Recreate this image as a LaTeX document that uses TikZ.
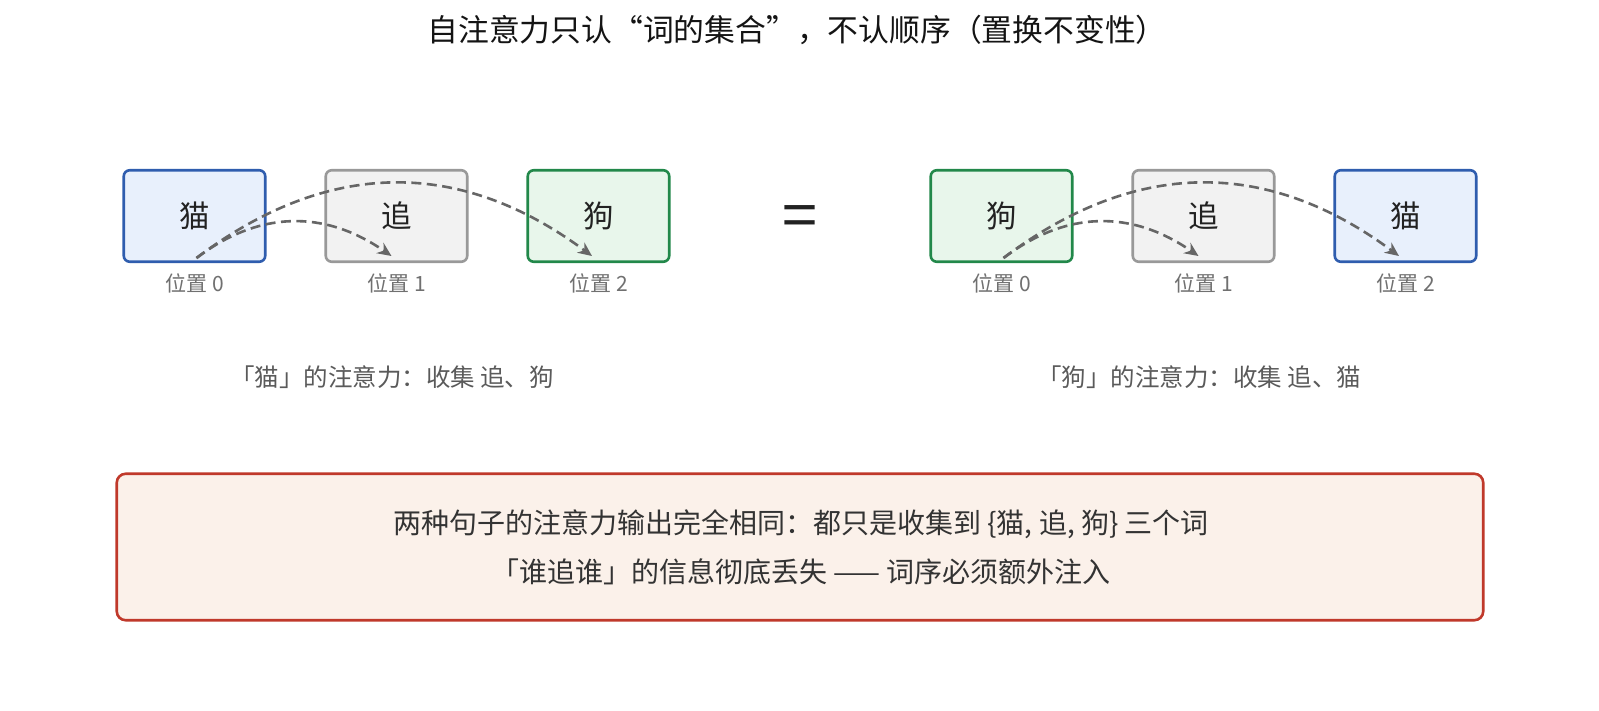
\documentclass[tikz,border=0pt]{standalone}
\usepackage{fontspec}
\setmainfont{Noto Sans CJK SC}
\usetikzlibrary{arrows.meta}
\definecolor{bluefill}{HTML}{E8F0FC}
\definecolor{blueline}{HTML}{2F5DAE}
\definecolor{grayfill}{HTML}{F2F2F2}
\definecolor{grayline}{HTML}{999999}
\definecolor{greenfill}{HTML}{E8F6EB}
\definecolor{greenline}{HTML}{22884A}
\definecolor{redfill}{HTML}{FBF1EA}
\definecolor{redline}{HTML}{C0392B}
\definecolor{arrowc}{HTML}{666666}
\definecolor{labc}{HTML}{707070}
\definecolor{capc}{HTML}{5A5A5A}
\definecolor{txtc}{HTML}{222222}
\definecolor{bodyc}{HTML}{333333}
\tikzset{
  wordbox/.style={draw, line width=2.6pt, rounded corners=6pt, minimum width=141.5pt, minimum height=91.5pt, inner sep=0pt, text=txtc, font=\fontsize{30.5}{35}\selectfont},
  bluebox/.style={wordbox, draw=blueline, fill=bluefill},
  graybox/.style={wordbox, draw=grayline, fill=grayfill},
  greenbox/.style={wordbox, draw=greenline, fill=greenfill},
  poslab/.style={text=labc, font=\fontsize{21}{25}\selectfont, inner sep=0pt},
  caption/.style={text=capc, font=\fontsize{24.5}{29}\selectfont, inner sep=0pt},
  bodytext/.style={text=bodyc, font=\fontsize{28}{33}\selectfont, inner sep=0pt},
  attn/.style={draw=arrowc, line width=2.6pt, dash pattern=on 10pt off 5.5pt, -{Stealth[length=14pt,width=12.5pt]}},
}
\begin{document}
\begin{tikzpicture}[x=1pt,y=-1pt]
\useasboundingbox (0,0) rectangle (1599,710);
\fill[white] (0,0) rectangle (1599,710);
\node[font=\fontsize{30.8}{36}\selectfont, text=black!92, inner sep=0pt] (title) at (797,29.5) {自注意力只认“词的集合”，不认顺序（置换不变性）};

% left sentence
\node[bluebox] (a1) at (194.5,216) {猫};
\node[graybox] (a2) at (396.5,216) {追};
\node[greenbox] (a3) at (598.5,216) {狗};
\node[poslab] (p1) at (194.5,283) {位置 0};
\node[poslab] (p2) at (396.5,283) {位置 1};
\node[poslab] (p3) at (598.5,283) {位置 2};
\coordinate (sa) at (196.5,258);
\coordinate (ea2) at (391.5,256);
\coordinate (ea3) at (592,256);
\draw[attn] (sa) .. controls (259.5,210.3) and (324.5,209.7) .. (ea2);
\draw[attn] (sa) .. controls (328.2,158.7) and (460,158) .. (ea3);
\node[caption] (c1) at (392,377.5) {「猫」的注意力：收集 追、狗};

\node[font=\fontsize{63}{66}\selectfont, text=txtc, inner sep=0pt] (eq) at (799.5,222) {=};

% right sentence
\node[greenbox] (b1) at (1001.5,216) {狗};
\node[graybox] (b2) at (1203.5,216) {追};
\node[bluebox] (b3) at (1405.5,216) {猫};
\node[poslab] (q1) at (1001.5,283) {位置 0};
\node[poslab] (q2) at (1203.5,283) {位置 1};
\node[poslab] (q3) at (1405.5,283) {位置 2};
\coordinate (sb) at (1003.5,258);
\coordinate (eb2) at (1198.5,256);
\coordinate (eb3) at (1399,256);
\draw[attn] (sb) .. controls (1066.5,210.3) and (1131.5,209.7) .. (eb2);
\draw[attn] (sb) .. controls (1135.2,158.7) and (1267,158) .. (eb3);
\node[caption] (c2) at (1199,377.5) {「狗」的注意力：收集 追、猫};

% conclusion
\node[draw=redline, fill=redfill, line width=2.6pt, rounded corners=9pt, minimum width=1366.5pt, minimum height=146.5pt, inner sep=0pt] (concl) at (800,547) {};
\node[bodytext] (l1) at (801,524) {两种句子的注意力输出完全相同：都只是收集到 \{猫, 追, 狗\} 三个词};
\node[bodytext] (l2) at (801,572) {「谁追谁」的信息彻底丢失 —— 词序必须额外注入};
\end{tikzpicture}
\end{document}
